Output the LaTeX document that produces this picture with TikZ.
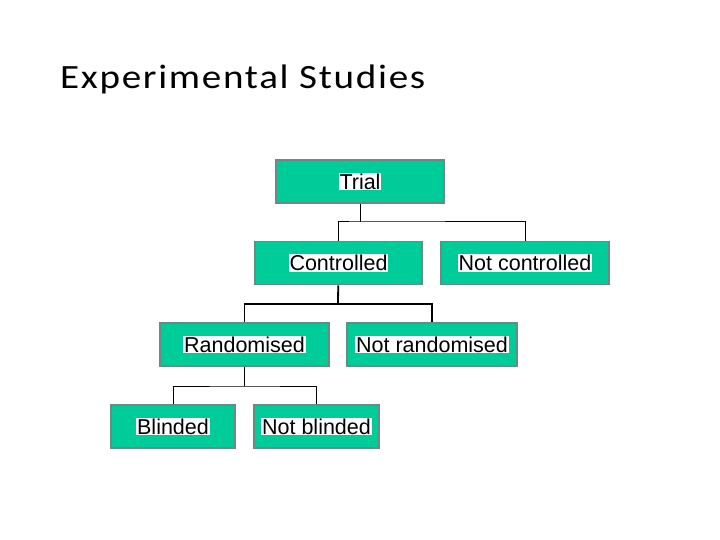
\documentclass[tikz,border=0pt]{standalone}
\usepackage{fontspec}
\setmainfont{Liberation Sans}
\newfontfamily\titlefont{Carlito}[FakeStretch=1.15,LetterSpace=5]
\definecolor{boxgreen}{RGB}{0,204,153}
\definecolor{boxedge}{RGB}{105,140,130}
\newcommand{\hl}[1]{{\setlength{\fboxsep}{0.8pt}\colorbox{white}{#1}}}
\tikzset{
    trialbox/.style={draw=boxedge, line width=1.6pt, fill=boxgreen, inner sep=0pt,
        minimum height=43, font=\fontsize{21.5}{24}\selectfont},
    link/.style={black, line width=1pt},
    thicklink/.style={black, line width=1.8pt}
}
\begin{document}
\begin{tikzpicture}[x=1pt, y=-1pt]
    \useasboundingbox (0,0) rectangle (720,540);
    \node[anchor=base west, inner sep=0pt] (title) at (60,89) {\titlefont\fontsize{34}{40}\selectfont Experimental Studies};
    % the tree
    \node[trialbox, minimum width=168] (trial) at (360,181.5) {\hl{Trial}};
    \node[trialbox, minimum width=167] (ctrl) at (338.5,263) {\hl{Controlled}};
    \node[trialbox, minimum width=168] (notctrl) at (525,263) {\hl{Not controlled}};
    \node[trialbox, minimum width=169] (rand) at (244.5,344.5) {\hl{Randomised}};
    \node[trialbox, minimum width=170] (notrand) at (432,344.5) {\hl{Not randomised}};
    \node[trialbox, minimum width=124] (blind) at (173,426.5) {\hl{Blinded}};
    \node[trialbox, minimum width=125] (notblind) at (316.5,426.5) {\hl{Not blinded}};
    \coordinate (j1) at (360,222);
    \coordinate (j2) at (338,304);
    \coordinate (j3) at (244.5,386);
    \draw[link] (trial) -- (j1);
    \draw[link] (ctrl.north) |- (j1) -| (notctrl.north);
    \draw[thicklink] (ctrl) -- (j2);
    \draw[thicklink] (rand.north) |- (j2) -| (notrand.north);
    \draw[thicklink] (rand) -- (j3);
    \draw[link] (blind.north) |- (j3) -| (notblind.north);
\end{tikzpicture}
\end{document}
